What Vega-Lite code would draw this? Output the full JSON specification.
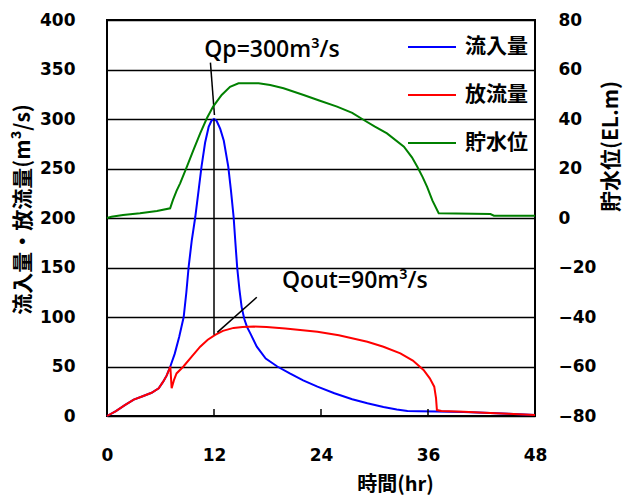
{
  "$schema": "https://vega.github.io/schema/vega-lite/v6.json",
  "width": 428,
  "height": 396,
  "autosize": {"type": "none"},
  "padding": {"left": 107, "top": 20, "right": 90, "bottom": 82},
  "background": "white",
  "config": {
    "view": {"stroke": "black", "strokeWidth": 2},
    "axis": {"labelFont": "DejaVu Sans", "labelFontWeight": "bold", "labelFontSize": 17, "labelColor": "black", "titleFont": "Noto Sans CJK JP", "titleFontWeight": "bold", "titleFontSize": 21, "titleColor": "black"}
  },
  "datasets": {
    "flow": [
      {"t": 0, "v": 0, "s": "流入量"}, {"t": 1, "v": 5, "s": "流入量"}, {"t": 2, "v": 11, "s": "流入量"}, {"t": 3, "v": 16.5, "s": "流入量"}, {"t": 4, "v": 20, "s": "流入量"}, {"t": 5, "v": 23.5, "s": "流入量"}, {"t": 5.8, "v": 28, "s": "流入量"}, {"t": 6.3, "v": 34.7, "s": "流入量"}, {"t": 6.7, "v": 41, "s": "流入量"}, {"t": 7.1, "v": 50, "s": "流入量"}, {"t": 7.6, "v": 63, "s": "流入量"}, {"t": 8.1, "v": 80, "s": "流入量"}, {"t": 8.6, "v": 100, "s": "流入量"}, {"t": 8.9, "v": 125, "s": "流入量"}, {"t": 9.15, "v": 150, "s": "流入量"}, {"t": 9.5, "v": 177, "s": "流入量"}, {"t": 9.9, "v": 201, "s": "流入量"}, {"t": 10.3, "v": 230, "s": "流入量"}, {"t": 10.6, "v": 252, "s": "流入量"}, {"t": 11.0, "v": 276, "s": "流入量"}, {"t": 11.4, "v": 292, "s": "流入量"}, {"t": 11.7, "v": 298, "s": "流入量"}, {"t": 12.0, "v": 300, "s": "流入量"}, {"t": 12.3, "v": 298, "s": "流入量"}, {"t": 12.7, "v": 290, "s": "流入量"}, {"t": 13.1, "v": 278, "s": "流入量"}, {"t": 13.6, "v": 252, "s": "流入量"}, {"t": 13.9, "v": 228, "s": "流入量"}, {"t": 14.2, "v": 201, "s": "流入量"}, {"t": 14.4, "v": 175, "s": "流入量"}, {"t": 14.6, "v": 150, "s": "流入量"}, {"t": 14.85, "v": 128, "s": "流入量"}, {"t": 15.1, "v": 110, "s": "流入量"}, {"t": 15.4, "v": 98, "s": "流入量"}, {"t": 15.7, "v": 90, "s": "流入量"}, {"t": 16.1, "v": 83, "s": "流入量"}, {"t": 16.8, "v": 70, "s": "流入量"}, {"t": 17.8, "v": 58, "s": "流入量"}, {"t": 19.1, "v": 50, "s": "流入量"}, {"t": 20.5, "v": 43, "s": "流入量"}, {"t": 22, "v": 36, "s": "流入量"}, {"t": 23.6, "v": 29.6, "s": "流入量"}, {"t": 25.5, "v": 23, "s": "流入量"}, {"t": 27.5, "v": 17, "s": "流入量"}, {"t": 29.2, "v": 12.8, "s": "流入量"}, {"t": 31, "v": 9, "s": "流入量"}, {"t": 32.5, "v": 6.5, "s": "流入量"}, {"t": 33.7, "v": 5, "s": "流入量"}, {"t": 35, "v": 4.8, "s": "流入量"}, {"t": 37, "v": 4.5, "s": "流入量"}, {"t": 40, "v": 4, "s": "流入量"}, {"t": 42.3, "v": 3.3, "s": "流入量"}, {"t": 45, "v": 2.2, "s": "流入量"}, {"t": 48, "v": 1, "s": "流入量"},
      {"t": 0, "v": 0, "s": "放流量"}, {"t": 1, "v": 5, "s": "放流量"}, {"t": 2, "v": 11, "s": "放流量"}, {"t": 3, "v": 16.5, "s": "放流量"}, {"t": 4, "v": 20, "s": "放流量"}, {"t": 5, "v": 23.5, "s": "放流量"}, {"t": 5.8, "v": 28, "s": "放流量"}, {"t": 6.3, "v": 34.7, "s": "放流量"}, {"t": 6.7, "v": 41, "s": "放流量"}, {"t": 7.1, "v": 50, "s": "放流量"}, {"t": 7.25, "v": 28, "s": "放流量"}, {"t": 7.5, "v": 36, "s": "放流量"}, {"t": 7.8, "v": 43, "s": "放流量"}, {"t": 8.57, "v": 50, "s": "放流量"}, {"t": 9.5, "v": 60, "s": "放流量"}, {"t": 10.45, "v": 70, "s": "放流量"}, {"t": 11.3, "v": 77, "s": "放流量"}, {"t": 12.13, "v": 82, "s": "放流量"}, {"t": 13, "v": 86, "s": "放流量"}, {"t": 14.2, "v": 89, "s": "放流量"}, {"t": 15.2, "v": 90, "s": "放流量"}, {"t": 16.5, "v": 90.3, "s": "放流量"}, {"t": 17.9, "v": 90, "s": "放流量"}, {"t": 20, "v": 88.5, "s": "放流量"}, {"t": 23.6, "v": 85, "s": "放流量"}, {"t": 26, "v": 81.5, "s": "放流量"}, {"t": 29.2, "v": 75, "s": "放流量"}, {"t": 31, "v": 70, "s": "放流量"}, {"t": 32.9, "v": 63.3, "s": "放流量"}, {"t": 34.3, "v": 56, "s": "放流量"}, {"t": 35.5, "v": 46.5, "s": "放流量"}, {"t": 36.2, "v": 38, "s": "放流量"}, {"t": 36.7, "v": 29.6, "s": "放流量"}, {"t": 36.9, "v": 18, "s": "放流量"}, {"t": 37.0, "v": 6, "s": "放流量"}, {"t": 37.5, "v": 5, "s": "放流量"}, {"t": 40, "v": 4.2, "s": "放流量"}, {"t": 42.3, "v": 3.3, "s": "放流量"}, {"t": 45, "v": 2.2, "s": "放流量"}, {"t": 48, "v": 1, "s": "放流量"}
    ],
    "level": [
      {"t": 0, "level": 0}, {"t": 0.5, "level": 0.5}, {"t": 1.8, "level": 1.2}, {"t": 3.7, "level": 1.9}, {"t": 5.6, "level": 2.8}, {"t": 7.08, "level": 3.9}, {"t": 7.4, "level": 7.3}, {"t": 7.8, "level": 11}, {"t": 8.2, "level": 14}, {"t": 8.95, "level": 20.7}, {"t": 9.7, "level": 27.5}, {"t": 10.45, "level": 34.2}, {"t": 11.2, "level": 40.3}, {"t": 11.9, "level": 45}, {"t": 12.86, "level": 49.7}, {"t": 13.8, "level": 53}, {"t": 14.75, "level": 54.4}, {"t": 17, "level": 54.4}, {"t": 18.3, "level": 53.7}, {"t": 19.8, "level": 52.4}, {"t": 22.05, "level": 49.7}, {"t": 23.8, "level": 47.5}, {"t": 25.8, "level": 45}, {"t": 27.5, "level": 42.5}, {"t": 28.8, "level": 39.6}, {"t": 30, "level": 37}, {"t": 31.4, "level": 34.2}, {"t": 33.3, "level": 28.8}, {"t": 34.2, "level": 24.5}, {"t": 34.8, "level": 20.7}, {"t": 35.4, "level": 16.5}, {"t": 35.9, "level": 12.6}, {"t": 36.5, "level": 7}, {"t": 37.2, "level": 1.9}, {"t": 43, "level": 1.6}, {"t": 43.4, "level": 0.9}, {"t": 48, "level": 0.9}
    ],
    "rules": [
      {"t": 12, "v": 82, "t2": 12, "v2": 300},
      {"t": 11.6, "v": 357, "t2": 12.05, "v2": 304},
      {"t": 12.37, "v": 84.5, "t2": 16.8, "v2": 120},
      {"t": 12, "v": 0, "t2": 12, "v2": 7},
      {"t": 24, "v": 0, "t2": 24, "v2": 7},
      {"t": 36, "v": 0, "t2": 36, "v2": 7}
    ],
    "labels": [
      {"t": 18.5, "v": 370, "text": "Qp=300m³/s"},
      {"t": 27.8, "v": 136, "text": "Qout=90m³/s"}
    ]
  },
  "layer": [
    {
      "layer": [
        {
          "data": {"name": "flow"},
          "mark": {"type": "line", "strokeWidth": 2},
          "encoding": {
            "x": {"field": "t", "type": "quantitative", "scale": {"domain": [0, 48], "nice": false},
              "axis": {"values": [0, 12, 24, 36, 48], "grid": false, "domain": false, "ticks": false, "labelFlush": false, "labelPadding": 31, "title": "時間(hr)", "titleX": 288, "titleY": 68, "titleAlign": "center", "titleBaseline": "middle", "titleFontSize": 20}},
            "y": {"field": "v", "type": "quantitative", "scale": {"domain": [0, 400], "nice": false},
              "axis": {"orient": "left", "values": [0, 50, 100, 150, 200, 250, 300, 350, 400], "grid": true, "gridColor": "black", "gridWidth": 1.5, "gridOpacity": 1, "ticks": false, "domain": false, "labelPadding": 32, "title": "流入量・放流量(m³/s)", "titleAngle": 270, "titleX": -84, "titleY": 189, "titleAlign": "center", "titleBaseline": "middle"}},
            "color": {"field": "s", "type": "nominal",
              "scale": {"domain": ["流入量", "放流量", "貯水位"], "range": ["#0000FF", "#FF0000", "#008000"]},
              "legend": {"orient": "none", "legendX": 300, "legendY": 2, "title": null, "symbolType": "stroke", "symbolSize": 2304, "symbolStrokeWidth": 2, "labelFont": "Noto Sans CJK JP", "labelFontWeight": "bold", "labelFontSize": 21, "labelColor": "black", "labelOffset": 8, "rowPadding": 13}}
          }
        },
        {
          "data": {"name": "rules"},
          "mark": {"type": "rule", "color": "black", "strokeWidth": 1.5},
          "encoding": {
            "x": {"field": "t", "type": "quantitative"},
            "y": {"field": "v", "type": "quantitative"},
            "x2": {"field": "t2"},
            "y2": {"field": "v2"}
          }
        },
        {
          "data": {"name": "labels"},
          "mark": {"type": "text", "font": "Open Sans", "fontWeight": 600, "fontSize": 23, "color": "black", "align": "center", "baseline": "middle"},
          "encoding": {
            "x": {"field": "t", "type": "quantitative"},
            "y": {"field": "v", "type": "quantitative"},
            "text": {"field": "text"}
          }
        }
      ]
    },
    {
      "data": {"name": "level"},
      "mark": {"type": "line", "strokeWidth": 2},
      "encoding": {
        "x": {"field": "t", "type": "quantitative"},
        "y": {"field": "level", "type": "quantitative", "scale": {"domain": [-80, 80], "nice": false},
          "axis": {"orient": "right", "values": [-80, -60, -40, -20, 0, 20, 40, 60, 80], "grid": false, "ticks": false, "domain": false, "labelPadding": 23, "title": "貯水位(EL.m)", "titleAngle": 270, "titleX": 76, "titleY": 126, "titleAlign": "center", "titleBaseline": "middle", "titleFontSize": 21}},
        "color": {"datum": "貯水位", "type": "nominal"}
      }
    }
  ],
  "resolve": {"scale": {"y": "independent"}}
}
